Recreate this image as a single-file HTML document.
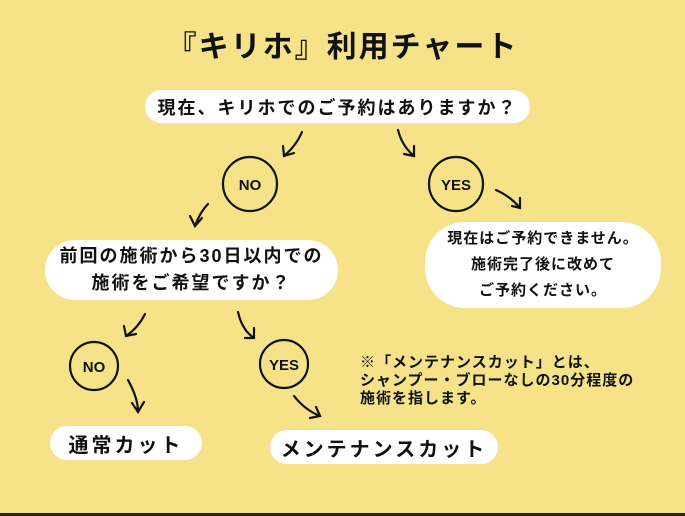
<!DOCTYPE html>
<html><head><meta charset="utf-8"><style>
body{margin:0;width:685px;height:516px;background:#f6e389;position:relative;overflow:hidden;font-family:"Liberation Sans","Noto Sans CJK JP",sans-serif;font-weight:bold;color:#111}
.b{position:absolute;background:#fff;display:flex;align-items:center;justify-content:center;text-align:center}
.t{position:absolute;white-space:nowrap}
svg{position:absolute;left:0;top:0}
</style></head><body>
<div class="t" style="left:0;width:685px;top:22px;text-align:center;font-size:30px;letter-spacing:2px">『キリホ』利用チャート</div>
<div class="b" style="left:145px;top:90px;width:385px;height:33px;border-radius:17px;font-size:18px;letter-spacing:2px">現在、キリホでのご予約はありますか？</div>
<div class="b" style="left:45px;top:240px;width:293px;height:60px;border-radius:30px;font-size:18px;line-height:27px;letter-spacing:2px">前回の施術から30日以内での<br>施術をご希望ですか？</div>
<div class="b" style="left:425px;top:222px;width:236px;height:86px;border-radius:40px;font-size:15px;line-height:26px;letter-spacing:1px">現在はご予約できません。<br>施術完了後に改めて<br>ご予約ください。</div>
<div class="b" style="left:50px;top:426px;width:152px;height:34px;border-radius:17px;font-size:20px;letter-spacing:3px">通常カット</div>
<div class="b" style="left:270px;top:430px;width:228px;height:34px;border-radius:17px;font-size:20px;letter-spacing:3px">メンテナンスカット</div>
<div class="t" style="left:360px;top:354px;font-size:15px;line-height:18px;letter-spacing:1px">※「メンテナンスカット」とは、<br>シャンプー・ブローなしの30分程度の<br>施術を指します。</div>
<svg width="685" height="516" fill="none" stroke="#111" stroke-width="2.2" stroke-linecap="round">
<circle cx="250" cy="184" r="27"/><circle cx="456" cy="184" r="27"/>
<circle cx="94" cy="366" r="24"/><circle cx="284" cy="364" r="24"/>
<g font-family="Liberation Sans" font-weight="bold" font-size="15" fill="#111" stroke="none" text-anchor="middle">
<text x="250" y="190">NO</text><text x="456" y="190">YES</text>
<text x="94" y="372">NO</text><text x="284" y="370">YES</text></g>
<path d="M302 132 Q296 146 284 156"/><path d="M283 146 L284 156 L294 153"/>
<path d="M398 130 Q402 146 414 156"/><path d="M404 154 L414 156 L414 146"/>
<path d="M496 190 Q510 196 520 208"/><path d="M512 206 L520 208 L520 198"/>
<path d="M208 204 Q200 212 195 226"/><path d="M190 216 L195 226 L202 218"/>
<path d="M145 314 Q138 328 126 336"/><path d="M124 326 L126 336 L136 334"/>
<path d="M238 312 Q242 330 254 338"/><path d="M245 338 L254 338 L254 328"/>
<path d="M128 380 Q138 398 138 412"/><path d="M132 403 L138 412 L144 402"/>
<path d="M294 396 Q305 410 320 416"/><path d="M310 418 L320 416 L316 407"/>
</svg>
<div style="position:absolute;left:0;top:513px;width:685px;height:3px;background:#222"></div>
</body></html>
